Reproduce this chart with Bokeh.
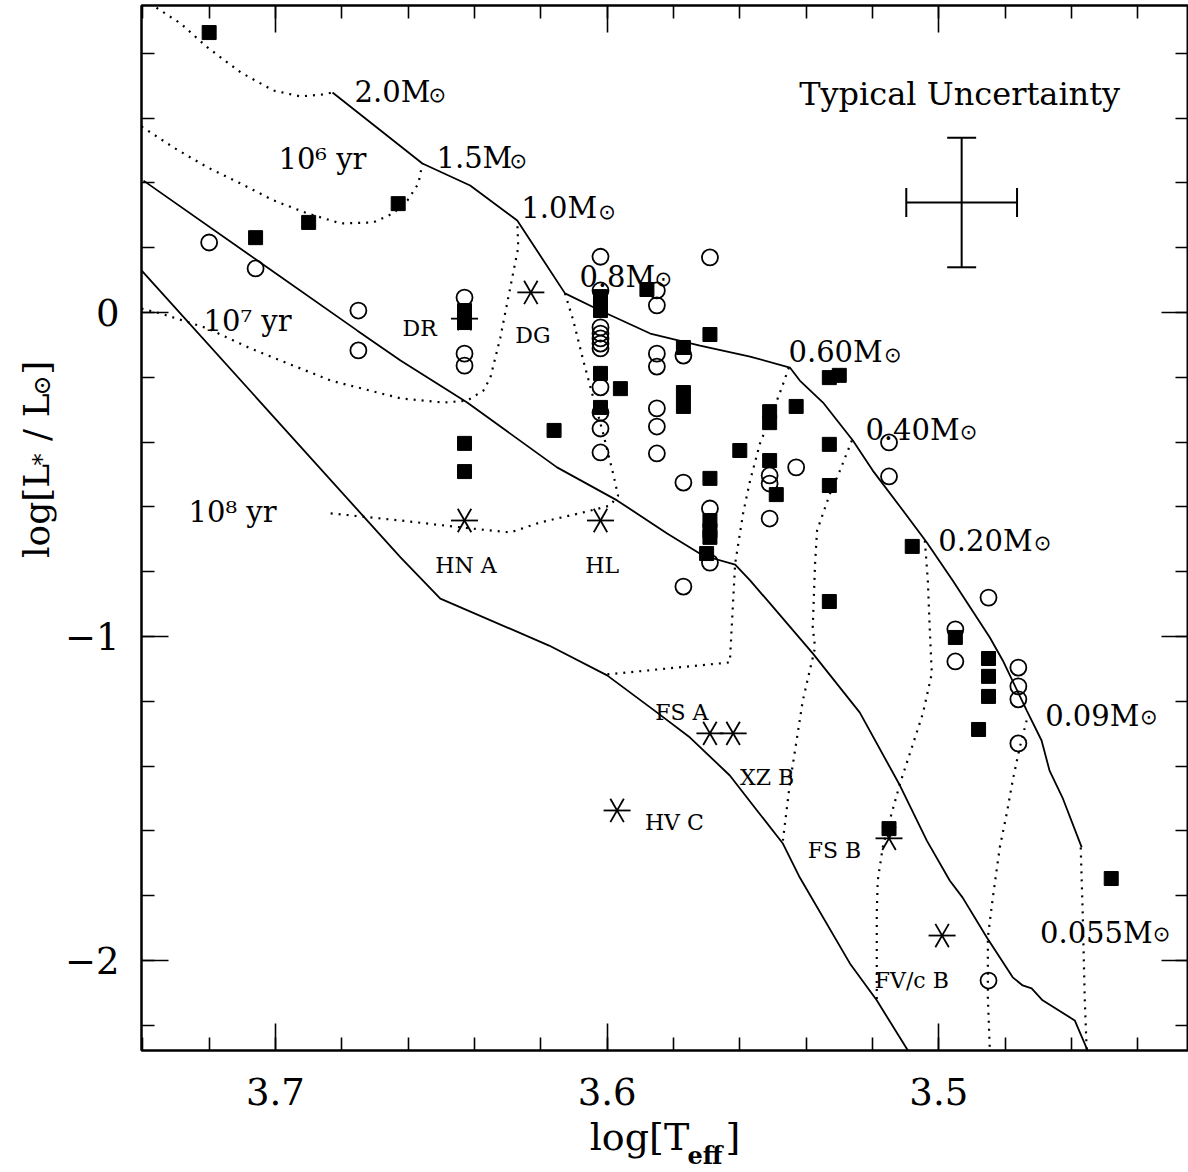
import numpy as np
from bokeh.plotting import figure
from bokeh.models import (Range1d, LinearAxis, SingleIntervalTicker, Title,
                          Whisker, TeeHead, ColumnDataSource, CustomLabelingPolicy)
from bokeh.core.properties import value
from bokeh.embed import file_html
from bokeh.resources import INLINE

# ---------------- data (log Teff, log L/Lsun) ----------------
sq_logT = [3.720, 3.706, 3.690, 3.663,
           3.643, 3.643, 3.643, 3.643,
           3.616, 3.602, 3.602, 3.602, 3.602, 3.602, 3.596, 3.588,
           3.577, 3.577, 3.577,
           3.569, 3.569, 3.569, 3.569, 3.569, 3.570,
           3.560, 3.551, 3.551, 3.551, 3.549, 3.543,
           3.533, 3.530, 3.533, 3.533, 3.533,
           3.515, 3.508, 3.495, 3.485, 3.485, 3.485, 3.488, 3.448]
sq_logL = [0.864, 0.231, 0.278, 0.336,
           0.006, -0.031, -0.404, -0.491,
           -0.364, 0.049, 0.028, 0.006, -0.188, -0.293, -0.235, 0.071,
           -0.108, -0.247, -0.290,
           -0.068, -0.512, -0.642, -0.673, -0.694, -0.744,
           -0.426, -0.306, -0.340, -0.457, -0.562, -0.290,
           -0.201, -0.194, -0.407, -0.534, -0.892,
           -1.593, -0.722, -1.003, -1.068, -1.123, -1.185, -1.287, -1.747]

ci_logT = [3.720, 3.706, 3.675, 3.675,
           3.643, 3.643, 3.643,
           3.602, 3.602, 3.602, 3.602, 3.602, 3.602, 3.602, 3.602, 3.602, 3.602, 3.602,
           3.585, 3.585, 3.585, 3.585, 3.585, 3.585, 3.585,
           3.577, 3.577, 3.577,
           3.569, 3.569, 3.569,
           3.551, 3.551, 3.551, 3.543,
           3.515, 3.515,
           3.485, 3.495, 3.495,
           3.476, 3.476, 3.476, 3.476, 3.485]
ci_logL = [0.216, 0.136, 0.006, -0.117,
           0.046, -0.127, -0.164,
           0.172, 0.068, -0.046, -0.065, -0.080, -0.096, -0.111, -0.231, -0.309, -0.358, -0.432,
           0.068, 0.022, -0.127, -0.167, -0.296, -0.352, -0.435,
           -0.133, -0.525, -0.846,
           0.170, -0.605, -0.772,
           -0.503, -0.528, -0.636, -0.478,
           -0.401, -0.506,
           -0.880, -0.978, -1.077,
           -1.096, -1.154, -1.194, -1.330, -2.062]

star_names = ["DR", "DG", "HN A", "HL", "FS A", "XZ B", "HV C", "FS B", "FV/c B"]
star_logT = [3.643, 3.623, 3.643, 3.602, 3.569, 3.562, 3.597, 3.515, 3.499]
star_logL = [-0.019, 0.062, -0.642, -0.642, -1.299, -1.299, -1.537, -1.623, -1.923]

# isochrones (solid)
iso6_logT = [3.6828, 3.6557, 3.6413, 3.6271, 3.6127, 3.6021, 3.5870, 3.5720, 3.5569,
             3.5449, 3.5419, 3.5349, 3.5259, 3.5199, 3.5108, 3.5036, 3.4958, 3.4846,
             3.4807, 3.4735, 3.4690, 3.4666, 3.4627, 3.4569]
iso6_logL = [0.679, 0.460, 0.392, 0.284, 0.059, 0.006, -0.065, -0.102, -0.136,
             -0.170, -0.210, -0.278, -0.395, -0.488, -0.611, -0.710, -0.827, -1.003,
             -1.074, -1.228, -1.321, -1.414, -1.497, -1.651]
iso7_logT = [3.7398, 3.6753, 3.6623, 3.6422, 3.6151, 3.5970, 3.5819, 3.5711, 3.5614,
             3.5569, 3.5509, 3.5380, 3.5238, 3.5117, 3.5036, 3.4967, 3.4928, 3.4855,
             3.4777, 3.4747, 3.4720, 3.4687, 3.4590, 3.4551]
iso7_logL = [0.407, -0.056, -0.148, -0.278, -0.478, -0.580, -0.682, -0.750, -0.778,
             -0.827, -0.898, -1.052, -1.235, -1.460, -1.630, -1.753, -1.806, -1.929,
             -2.052, -2.077, -2.086, -2.123, -2.185, -2.278]
iso8_logT = [3.7404, 3.6623, 3.6503, 3.6175, 3.6000, 3.5849, 3.5750, 3.5630, 3.5548,
             3.5470, 3.5419, 3.5268, 3.5187, 3.5093]
iso8_logL = [0.130, -0.756, -0.883, -1.028, -1.120, -1.235, -1.312, -1.429, -1.537,
             -1.639, -1.744, -2.009, -2.123, -2.278]

# evolutionary tracks (dotted)
trk20_logT = [3.7377, 3.7355, 3.7286, 3.7205, 3.7105, 3.7006, 3.6925, 3.6858, 3.6828]
trk20_logL = [0.957, 0.938, 0.892, 0.818, 0.741, 0.685, 0.667, 0.673, 0.679]
trk15_logT = [3.7404, 3.7386, 3.7307, 3.7205, 3.7105, 3.7006, 3.6904, 3.6804, 3.6705,
              3.6645, 3.6602, 3.6569, 3.6557]
trk15_logL = [0.574, 0.562, 0.509, 0.448, 0.398, 0.346, 0.306, 0.275, 0.278,
              0.306, 0.346, 0.398, 0.460]
trk10_logT = [3.7404, 3.7346, 3.7205, 3.7075, 3.6834, 3.6623, 3.6494, 3.6422, 3.6373,
              3.6352, 3.6322, 3.6286, 3.6268, 3.6271]
trk10_logL = [0.012, -0.003, -0.049, -0.111, -0.210, -0.265, -0.278, -0.272, -0.241,
              -0.201, -0.077, 0.108, 0.201, 0.284]
trk08_logT = [3.6127, 3.6102, 3.6072, 3.6042, 3.6012, 3.5982, 3.5967, 3.5991, 3.6072,
              3.6202, 3.6292, 3.6434, 3.6623, 3.6834]
trk08_logL = [0.059, -0.025, -0.148, -0.262, -0.373, -0.497, -0.565, -0.596, -0.617,
              -0.648, -0.679, -0.664, -0.642, -0.620]
trk06_logT = [3.5452, 3.5473, 3.5503, 3.5539, 3.5569, 3.5590, 3.5614, 3.5620, 3.5630, 3.6000]
trk06_logL = [-0.170, -0.231, -0.312, -0.404, -0.519, -0.620, -0.775, -0.889, -1.080, -1.117]
trk04_logT = [3.5262, 3.5298, 3.5328, 3.5367, 3.5373, 3.5380, 3.5373, 3.5410, 3.5449, 3.5470]
trk04_logL = [-0.395, -0.488, -0.559, -0.673, -0.775, -0.972, -1.034, -1.198, -1.454, -1.630]
trk02_logT = [3.5042, 3.5033, 3.5027, 3.5021, 3.5048, 3.5087, 3.5117, 3.5148, 3.5169,
              3.5184, 3.5187, 3.5187]
trk02_logL = [-0.704, -0.827, -0.981, -1.114, -1.238, -1.361, -1.454, -1.568, -1.651,
              -1.753, -1.855, -2.123]
trk009_logT = [3.4735, 3.4756, 3.4777, 3.4795, 3.4816, 3.4837, 3.4852, 3.4852, 3.4846]
trk009_logL = [-1.259, -1.343, -1.444, -1.546, -1.651, -1.806, -1.929, -2.114, -2.278]
trk0055_logT = [3.4572, 3.4566, 3.4560, 3.4554]
trk0055_logL = [-1.651, -1.855, -2.114, -2.278]

mass_labels = ["2.0M", "1.5M", "1.0M", "0.8M", "0.60M", "0.40M", "0.20M", "0.09M", "0.055M"]
iso_labels = ["10\u2076 yr", "10\u2077 yr", "10\u2078 yr"]

# typical uncertainty
unc_logT, unc_logL = 3.4931, 0.3395
unc_dlogT, unc_dlogL = 0.0167, 0.2

# ---------------- figure ----------------
SERIF = "DejaVu Serif"
NB = "\u00a0"
p = figure(width=1188, height=1172,
           x_range=Range1d(3.7404, 3.4247), y_range=Range1d(-2.2778, 0.9475),
           x_axis_type=None, y_axis_type=None,
           output_backend="svg", toolbar_location=None,
           min_border_left=141, min_border_right=0, min_border_top=5, min_border_bottom=122)
p.background_fill_color = "white"
p.border_fill_color = "white"
p.outline_line_color = "black"
p.outline_line_width = 2
p.xgrid.visible = False
p.ygrid.visible = False


def make_axis(interval, labels):
    ax = LinearAxis(ticker=SingleIntervalTicker(interval=interval, num_minor_ticks=5),
                    axis_line_width=2, axis_line_color="black",
                    major_tick_in=27, major_tick_out=0, minor_tick_in=13, minor_tick_out=0,
                    major_tick_line_width=1.6, minor_tick_line_width=1.6,
                    major_tick_line_color="black", minor_tick_line_color="black")
    if labels:
        ax.major_label_text_font = SERIF
        ax.major_label_text_font_size = "37px"
        ax.major_label_text_color = "black"
        ax.major_label_standoff = 22
        ax.axis_label_text_font = SERIF
        ax.axis_label_text_font_style = "normal"
        ax.axis_label_text_color = "black"
    else:
        ax.major_label_text_font_size = "0px"
        ax.major_label_standoff = 0
        ax.major_label_policy = CustomLabelingPolicy(code="return []")
    return ax


xb = make_axis(0.1, True)
xb.major_label_standoff = 27
xb.axis_label = "log[T" + NB * 3 + "]"
xb.axis_label_text_font_size = "38px"
xb.axis_label_standoff = 7

yl = make_axis(1.0, True)
yl.major_label_overrides = {0: "0", -1: "\u22121", -2: "\u22122"}
yl.axis_label = NB * 12 + "log[L" + NB + NB + "/" + NB + "L" + NB + "\u2009" + "]"
yl.axis_label_text_font_size = "36px"
yl.axis_label_standoff = 5

p.add_layout(xb, "below")
p.add_layout(yl, "left")
p.add_layout(make_axis(0.1, False), "above")
p.add_layout(make_axis(1.0, False), "right")

# subscripts of the axis titles
p.add_layout(Title(text="eff", align="left", offset=546, vertical_align="top", standoff=-42,
                   text_font=SERIF, text_font_size="24px", text_font_style="bold",
                   text_color="black"), "below")
p.add_layout(Title(text="*" + NB * 7 + "\u2009" + "\u2299", align="left", offset=585,
                   vertical_align="bottom", standoff=-86,
                   text_font=SERIF, text_font_size="24px", text_font_style="normal",
                   text_color="black"), "left")

# isochrones
for xs, ys in [(iso6_logT, iso6_logL), (iso7_logT, iso7_logL), (iso8_logT, iso8_logL)]:
    p.line(xs, ys, line_color="black", line_width=1.8)

# tracks
for xs, ys in [(trk20_logT, trk20_logL), (trk15_logT, trk15_logL), (trk10_logT, trk10_logL),
               (trk08_logT, trk08_logL), (trk06_logT, trk06_logL), (trk04_logT, trk04_logL),
               (trk02_logT, trk02_logL), (trk009_logT, trk009_logL), (trk0055_logT, trk0055_logL)]:
    p.line(xs, ys, line_color="black", line_width=2.2, line_dash="2 6")

# data points
p.scatter(sq_logT, sq_logL, marker="square", size=14, fill_color="black", line_color="black")
p.scatter(ci_logT, ci_logL, marker="circle", size=16, fill_alpha=0,
          line_color="black", line_width=1.8)
for ang in (0.0, np.pi / 3, 2 * np.pi / 3):
    p.scatter(star_logT, star_logL, marker="dash", size=27, angle=ang,
              line_color="black", line_width=1.8)

# uncertainty cross
err_src = ColumnDataSource(dict(x=[unc_logT], y=[unc_logL],
                                xl=[unc_logT - unc_dlogT], xu=[unc_logT + unc_dlogT],
                                yl=[unc_logL - unc_dlogL], yu=[unc_logL + unc_dlogL]))
p.add_layout(Whisker(source=err_src, base="x", lower="yl", upper="yu", dimension="height",
                     line_width=2, line_color="black",
                     upper_head=TeeHead(size=29, line_width=2, line_color="black"),
                     lower_head=TeeHead(size=29, line_width=2, line_color="black")))
p.add_layout(Whisker(source=err_src, base="y", lower="xl", upper="xu", dimension="width",
                     line_width=2, line_color="black",
                     upper_head=TeeHead(size=29, line_width=2, line_color="black"),
                     lower_head=TeeHead(size=29, line_width=2, line_color="black")))
p.text(x=[3.4937], y=[0.674], text=["Typical Uncertainty"], text_font=value(SERIF),
       text_font_size="32px", text_align="center", text_baseline="alphabetic", text_color="black")

# mass labels (right end of "M"), solar symbol subscript
mass_x = [3.6533, 3.6286, 3.6030, 3.5855, 3.5169, 3.4937, 3.4717, 3.4395, 3.4355]
mass_y = [0.679, 0.478, 0.321, 0.108, -0.123, -0.364, -0.704, -1.244, -1.914]
sun_x = [3.6512, 3.6268, 3.6000, 3.5831, 3.5139, 3.4910, 3.4687, 3.4367, 3.4328]
sun_y = [0.670, 0.469, 0.309, 0.102, -0.130, -0.370, -0.710, -1.250, -1.917]
p.text(x=mass_x, y=mass_y, text=mass_labels, text_font=value(SERIF), text_font_size="29px",
       text_align="right", text_baseline="alphabetic", text_color="black")
p.text(x=sun_x, y=sun_y, text=["\u2299"] * len(sun_x), text_font=value("DejaVu Sans"),
       text_font_size="21px", text_align="center", text_baseline="middle", text_color="black")

# isochrone labels
p.text(x=[3.6991, 3.7217, 3.7262], y=[0.475, -0.025, -0.617], text=iso_labels,
       text_font=value(SERIF), text_font_size="29px", text_align="left",
       text_baseline="alphabetic", text_color="black")

# star labels
star_lx = [3.6617, 3.6277, 3.6518, 3.6066, 3.5855, 3.5599, 3.5886, 3.5395, 3.5193]
star_ly = [-0.049, -0.071, -0.781, -0.781, -1.235, -1.435, -1.574, -1.660, -2.062]
p.text(x=star_lx, y=star_ly, text=star_names, text_font=value(SERIF), text_font_size="22px",
       text_align="left", text_baseline="alphabetic", text_color="black")

open("out.html", "w").write(file_html(p, INLINE))
